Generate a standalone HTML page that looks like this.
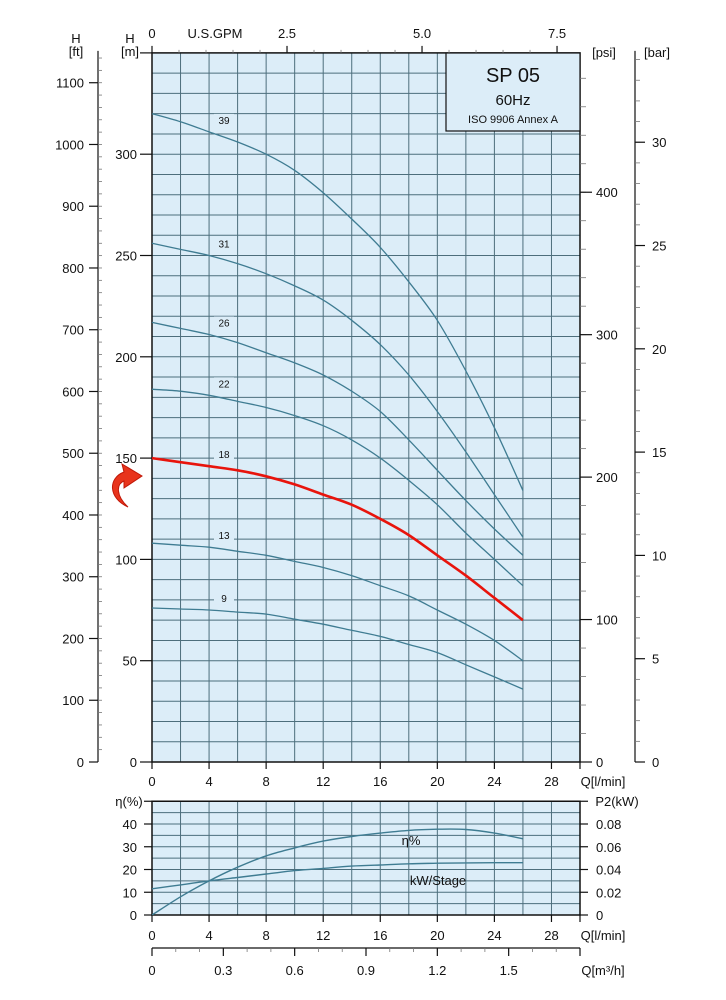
<!DOCTYPE html>
<html><head><meta charset="utf-8"><style>
html,body{margin:0;padding:0;background:#fff;}
svg{display:block;font-family:"Liberation Sans",sans-serif;}
</style></head><body>
<svg id="c" width="726" height="1000" viewBox="0 0 726 1000"></svg>
<script>
const flowQ = [0,2,4,6,8,10,12,14,16,18,20,22,24,26];
const stageLabels = ['39','31','26','22','18','13','9'];
const head39 = [320,316,311,306,300,292,281,268,254,237,218,193,165,134];
const head31 = [256,253,250,246,241,235,228,218,206,191,173,153,132,111];
const head26 = [217,214,211,207,202,197,191,183,173,159,144,129,115,102];
const head22 = [184,183,181,178,175,171,166,159,150,139,127,113,100,87];
const head18 = [150,148,146,144,141,137,132,127,120,112,102,92,81,70];
const head13 = [108,107,106,104,102,99,96,92,87,82,75,68,60,50];
const head9 = [76,75.5,75,74,73,70.5,68,65,62,58,54,48,42,36];
const heads = [head39,head31,head26,head22,head18,head13,head9];
const effQ = [0,2,4,6,8,10,12,14,16,18,20,22,24,26];
const effPct = [0,8,15,21,26,29.5,32.5,34.5,36,37.2,37.7,37.6,36,33.5];
const kwStage = [0.023,0.0265,0.030,0.033,0.036,0.039,0.041,0.043,0.044,0.045,0.0455,0.0458,0.046,0.046];
const qTicks = [0,4,8,12,16,20,24,28];
const mTicks = [0,50,100,150,200,250,300];
const ftTicks = [0,100,200,300,400,500,600,700,800,900,1000,1100];
const psiTicks = [0,100,200,300,400];
const barTicks = [0,5,10,15,20,25,30];
const gpmTicks = [0,2.5,5.0,7.5];
const etaTicks = [0,10,20,30,40];
const kwTicks = [0,0.02,0.04,0.06,0.08];
const m3hTicks = [0,0.3,0.6,0.9,1.2,1.5];

const NS='http://www.w3.org/2000/svg';
const svg=document.getElementById('c');
function el(tag,attrs,parent){const e=document.createElementNS(NS,tag);for(const k in attrs)e.setAttribute(k,attrs[k]);(parent||svg).appendChild(e);return e;}
function txt(s,x,y,anchor,size,parent){const t=el('text',{x:x,y:y,'text-anchor':anchor||'middle','font-size':size||13,fill:'#111'},parent);t.textContent=s;return t;}
const X0=152,X1=580;
const xQ=q=>X0+q*(X1-X0)/30;
const yM=m=>762-m*2.026;
const yE=p=>915-p*2.275;
const yK=k=>yE(k*500);

const main=el('g',{});


el('rect',{x:X0,y:yM(350),width:X1-X0,height:yM(0)-yM(350),fill:'#dcedf8'},main);
for(let q=2;q<30;q+=2){const l=el('line',{x1:xQ(q),x2:xQ(q),y1:yM(350),y2:yM(0),stroke:'#4d6e7c','stroke-width':1},main);}
for(let m=10;m<350;m+=10){const l=el('line',{x1:X0,x2:X1,y1:yM(m),y2:yM(m),stroke:'#4d6e7c','stroke-width':1},main);}
el('rect',{x:X0,y:yM(350),width:X1-X0,height:yM(0)-yM(350),fill:'none',stroke:'#111','stroke-width':1.5},main);
const tb=el('g',{},main);


el('rect',{x:446,y:53,width:134,height:78,fill:'#dcedf8',stroke:'#111','stroke-width':1.2},tb);
txt('SP 05',513,82,'middle',20,tb);
txt('60Hz',513,105,'middle',15,tb);
txt('ISO 9906 Annex A',513,123,'middle',11,tb);

function smooth(xs,ys,fx,fy){
  const p=xs.map((v,i)=>[fx(v),fy(ys[i])]);let d='M'+p[0][0].toFixed(1)+','+p[0][1].toFixed(1);
  for(let i=0;i<p.length-1;i++){const p0=p[Math.max(0,i-1)],p1=p[i],p2=p[i+1],p3=p[Math.min(p.length-1,i+2)];
    d+=' C'+(p1[0]+(p2[0]-p0[0])/6).toFixed(1)+','+(p1[1]+(p2[1]-p0[1])/6).toFixed(1)+' '+(p2[0]-(p3[0]-p1[0])/6).toFixed(1)+','+(p2[1]-(p3[1]-p1[1])/6).toFixed(1)+' '+p2[0].toFixed(1)+','+p2[1].toFixed(1);}
  return d;}
heads.forEach((h,i)=>{
  const red=stageLabels[i]==='18';
  const p=el('path',{d:smooth(flowQ,h,xQ,yM),fill:'none',stroke:red?'#e8140c':'#3f7c92','stroke-width':red?2.6:1.3},main);
  
  
  const ly=yM(h[2])-9;
  el('rect',{x:214,y:ly-9,width:20,height:12,fill:'#dcedf8'},main);
  const t=txt(stageLabels[i],224,ly+1,'middle',10,main);
  
  
});
const ar=el('path',{d:'M128,507 C108,498 108,478 124,472 L122,464 L142,476 L124,488 L124,481 C116,484 116,496 128,507 Z',fill:'#e8341c',stroke:'#c01808','stroke-width':1});



const ax=el('g',{stroke:'#111','stroke-width':1.2});


qTicks.forEach(q=>{el('line',{x1:xQ(q),x2:xQ(q),y1:762,y2:769},ax);const t=txt(String(q),xQ(q),786,'middle',13);});
el('line',{x1:X1,x2:X1,y1:762,y2:769},ax);
txt('Q[l/min]',603,786,'middle',13);
el('line',{x1:140,x2:X0,y1:yM(350),y2:yM(350)},ax);
mTicks.forEach(m=>{el('line',{x1:140,x2:X0,y1:yM(m),y2:yM(m)},ax);txt(String(m),137,yM(m)+5,'end',13);});
txt('H',130,43,'middle',13);txt('[m]',130,56,'middle',13);
el('line',{x1:98,x2:98,y1:yM(351),y2:yM(0)},ax);
for(let f=20;f<=1140;f+=20){el('line',{x1:98,x2:102,y1:yM(f*0.3048),y2:yM(f*0.3048),'stroke-width':0.8,stroke:'#777'},ax);}
ftTicks.forEach(f=>{el('line',{x1:89,x2:98,y1:yM(f*0.3048),y2:yM(f*0.3048)},ax);txt(String(f),84,yM(f*0.3048)+5,'end',13);});
txt('H',76,43,'middle',13);txt('[ft]',76,56,'middle',13);
for(let p=20;p<=500;p+=20){const y=yM(p*0.70307);if(y>yM(350))el('line',{x1:X1,x2:586,y1:y,y2:y,'stroke-width':0.8,stroke:'#777'},ax);}
psiTicks.forEach(p=>{el('line',{x1:X1,x2:592,y1:yM(p*0.70307),y2:yM(p*0.70307)},ax);txt(String(p),596,yM(p*0.70307)+5,'start',13);});
txt('[psi]',604,57,'middle',13);
el('line',{x1:635,x2:635,y1:yM(351),y2:yM(0)},ax);
for(let b=1;b<=34;b++){const y=yM(b*10.197);if(y>yM(351))el('line',{x1:635,x2:640,y1:y,y2:y,'stroke-width':0.8,stroke:'#777'},ax);}
barTicks.forEach(b=>{el('line',{x1:635,x2:645,y1:yM(b*10.197),y2:yM(b*10.197)},ax);txt(String(b),652,yM(b*10.197)+5,'start',13);});
txt('[bar]',657,57,'middle',13);
for(let g=0.5;g<=8;g+=0.5){const x=xQ(g*3.7854);if(x<X1)el('line',{x1:x,x2:x,y1:yM(350),y2:yM(350)-3,'stroke-width':0.8,stroke:'#777'},ax);}
gpmTicks.forEach(g=>{el('line',{x1:xQ(g*3.7854),x2:xQ(g*3.7854),y1:yM(350),y2:yM(350)-7},ax);txt(g===0?'0':g.toFixed(1),xQ(g*3.7854),38,'middle',13);});
txt('U.S.GPM',215,38,'middle',13);

const eg=el('g',{});


el('rect',{x:X0,y:yE(50),width:X1-X0,height:yE(0)-yE(50),fill:'#dcedf8'},eg);
for(let q=2;q<30;q+=2)el('line',{x1:xQ(q),x2:xQ(q),y1:yE(50),y2:yE(0),stroke:'#4d6e7c','stroke-width':1},eg);
for(let p=5;p<50;p+=5)el('line',{x1:X0,x2:X1,y1:yE(p),y2:yE(p),stroke:'#4d6e7c','stroke-width':1},eg);
el('rect',{x:X0,y:yE(50),width:X1-X0,height:yE(0)-yE(50),fill:'none',stroke:'#111','stroke-width':1.5},eg);
const ep=el('path',{d:smooth(effQ,effPct,xQ,yE),fill:'none',stroke:'#3f7c92','stroke-width':1.4},eg);


const kp=el('path',{d:smooth(effQ,kwStage,xQ,yK),fill:'none',stroke:'#3f7c92','stroke-width':1.4},eg);


txt('η%',411,845,'middle',13,eg);
txt('kW/Stage',438,885,'middle',13,eg);
const ax2=el('g',{stroke:'#111','stroke-width':1.2});


etaTicks.forEach(p=>{el('line',{x1:144,x2:X0,y1:yE(p),y2:yE(p)},ax2);txt(String(p),137,yE(p)+5,'end',13);});
el('line',{x1:144,x2:X0,y1:yE(50),y2:yE(50)},ax2);
txt('η(%)',129,806,'middle',13);
kwTicks.forEach(k=>{el('line',{x1:X1,x2:588,y1:yK(k),y2:yK(k)},ax2);txt(k===0?'0':k.toFixed(2),596,yK(k)+5,'start',13);});
el('line',{x1:X1,x2:588,y1:yE(50),y2:yE(50)},ax2);
txt('P2(kW)',617,806,'middle',13);
qTicks.forEach(q=>{el('line',{x1:xQ(q),x2:xQ(q),y1:915,y2:922},ax2);txt(String(q),xQ(q),940,'middle',13);});
el('line',{x1:X1,x2:X1,y1:915,y2:922},ax2);
txt('Q[l/min]',603,940,'middle',13);
el('line',{x1:X0,x2:X1,y1:948,y2:948},ax2);
for(let v=0.1;v<1.8;v+=0.1){const x=xQ(v*1000/60);if(x<X1)el('line',{x1:x,x2:x,y1:948,y2:952,'stroke-width':0.8,stroke:'#777'},ax2);}
m3hTicks.forEach(v=>{el('line',{x1:xQ(v*1000/60),x2:xQ(v*1000/60),y1:948,y2:956},ax2);txt(v===0?'0':v.toFixed(1),xQ(v*1000/60),975,'middle',13);});
el('line',{x1:X1,x2:X1,y1:948,y2:956},ax2);
txt('Q[m³/h]',603,975,'middle',13);
</script>
</body></html>
